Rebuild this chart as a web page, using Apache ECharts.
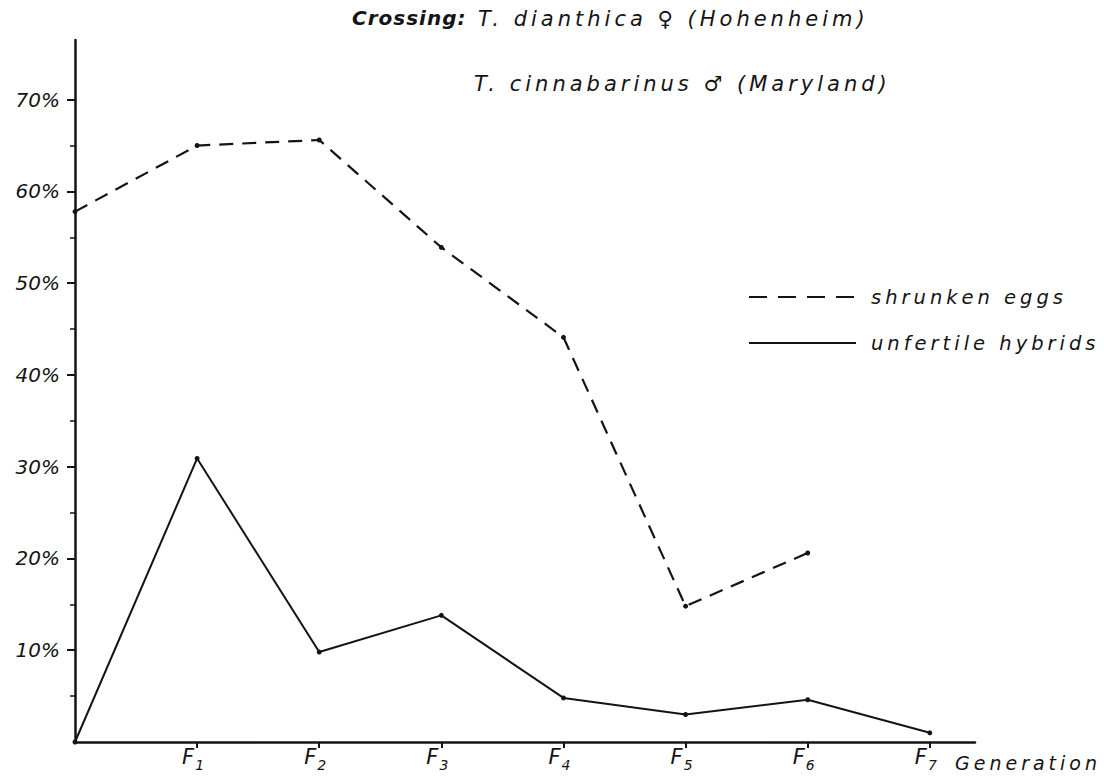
<!DOCTYPE html>
<html>
<head>
<meta charset="utf-8">
<script src="https://cdn.jsdelivr.net/npm/echarts@6/dist/echarts.min.js"></script>
<style>
html, body { margin: 0; padding: 0; background: #ffffff; }
#main { width: 1104px; height: 778px; }
#main text[style*="WideText"], #main text[font-family*="WideText"] { letter-spacing: 4px; }
#main text[style*="MidText"], #main text[font-family*="MidText"] { letter-spacing: 1px; }
</style>
</head>
<body>
<div id="main"></div>
<script>
// ---- data ----
const generationsEggs = [0, 1, 2, 3, 4, 5, 6];
const shrunkenEggs = [57.8, 65.0, 65.6, 53.9, 44.1, 14.8, 20.6];
const generationsHybrids = [0, 1, 2, 3, 4, 5, 6, 7];
const unfertileHybrids = [0, 30.9, 9.8, 13.8, 4.8, 3.0, 4.6, 1.0];
const xTickValues = [1, 2, 3, 4, 5, 6, 7];
const yTickValues = [10, 20, 30, 40, 50, 60, 70];
const yMinorTickValues = [5, 15, 25, 35, 45, 55, 65];
const seriesNames = ['shrunken eggs', 'unfertile hybrids'];
const titleLines = ['Crossing:', 'T. dianthica \u2640 (Hohenheim)', 'T. cinnabarinus \u2642 (Maryland)'];
const xAxisName = 'Generation';

const INK = '#141414';
const WIDE = 'DejaVu Sans, WideText';
const MID = 'DejaVu Sans, MidText';
const PLAIN = 'DejaVu Sans';

const chart = echarts.init(document.getElementById('main'), null, { renderer: 'svg' });

const option = {
  backgroundColor: '#ffffff',
  animation: false,
  title: [
    { text: titleLines[0], left: 352, top: 8, padding: 0,
      textStyle: { fontFamily: MID, fontStyle: 'italic', fontWeight: 'bold', fontSize: 20, color: INK } },
    { text: titleLines[1], left: 478, top: 8, padding: 0,
      textStyle: { fontFamily: WIDE, fontStyle: 'italic', fontWeight: 'normal', fontSize: 21, color: INK } },
    { text: titleLines[2], left: 474, top: 73, padding: 0,
      textStyle: { fontFamily: WIDE, fontStyle: 'italic', fontWeight: 'normal', fontSize: 21, color: INK } }
  ],
  legend: {
    orient: 'vertical',
    left: 743,
    top: 282,
    itemWidth: 107,
    itemHeight: 20,
    itemGap: 26,
    data: [
      { name: seriesNames[0], lineStyle: { type: [18, 11], width: 2 } },
      { name: seriesNames[1], lineStyle: { type: 'solid', width: 2 } }
    ],
    itemStyle: { opacity: 0 },
    textStyle: { fontFamily: WIDE, fontStyle: 'italic', fontSize: 19.5, lineHeight: 20, color: INK, padding: [0, 0, 0, 10] }
  },
  grid: { left: 75, right: 129, top: 40, bottom: 36, containLabel: false, outerBoundsMode: 'none' },
  xAxis: {
    type: 'value',
    min: 0,
    max: 7.37,
    axisLine: { show: true, lineStyle: { color: INK, width: 2.5 } },
    axisTick: { show: true, inside: false, length: 6, customValues: xTickValues, lineStyle: { color: INK, width: 2 } },
    axisLabel: {
      customValues: xTickValues,
      margin: 14,
      padding: [0, 8, 0, 0],
      formatter: function (v) { return '{f|F}{s|' + v + '}'; },
      rich: {
        f: { fontFamily: PLAIN, fontStyle: 'italic', fontSize: 21, lineHeight: 16, color: INK, verticalAlign: 'bottom', padding: [0, 1, 5, 0] },
        s: { fontFamily: PLAIN, fontStyle: 'italic', fontSize: 14, lineHeight: 14, color: INK, verticalAlign: 'bottom' }
      }
    },
    splitLine: { show: false },
    name: xAxisName,
    nameLocation: 'end',
    nameGap: -20,
    nameTextStyle: { fontFamily: WIDE, fontStyle: 'italic', fontSize: 19, color: INK, align: 'left', verticalAlign: 'top', padding: [11, 0, 0, 0] }
  },
  yAxis: [
    {
      type: 'value',
      min: 0,
      max: 76.5,
      axisLine: { show: true, lineStyle: { color: INK, width: 2.5 } },
      axisTick: { show: true, inside: false, length: 8, customValues: yTickValues, lineStyle: { color: INK, width: 2 } },
      axisLabel: {
        customValues: yTickValues,
        formatter: '{value}%',
        fontFamily: PLAIN, fontStyle: 'italic', fontSize: 20, color: INK,
        margin: 15,
        verticalAlign: 'middle',
        padding: [0, 0, 19, 0]
      },
      splitLine: { show: false }
    },
    {
      type: 'value',
      min: 0,
      max: 76.5,
      position: 'left',
      axisLine: { show: false },
      axisTick: { show: true, inside: false, length: 5, customValues: yMinorTickValues, lineStyle: { color: INK, width: 1.5 } },
      axisLabel: { show: false },
      splitLine: { show: false }
    }
  ],
  series: [
    {
      name: seriesNames[0],
      type: 'line',
      xAxisIndex: 0,
      yAxisIndex: 0,
      data: generationsEggs.map((g, i) => [g, shrunkenEggs[i]]),
      symbol: 'circle',
      symbolSize: 5,
      itemStyle: { color: INK },
      lineStyle: { color: INK, width: 2.2, type: [14, 9] },
      emphasis: { disabled: true }
    },
    {
      name: seriesNames[1],
      type: 'line',
      xAxisIndex: 0,
      yAxisIndex: 0,
      data: generationsHybrids.map((g, i) => [g, unfertileHybrids[i]]),
      symbol: 'circle',
      symbolSize: 5,
      itemStyle: { color: INK },
      lineStyle: { color: INK, width: 2, type: 'solid' },
      emphasis: { disabled: true }
    }
  ]
};

chart.setOption(option);
</script>
</body>
</html>
